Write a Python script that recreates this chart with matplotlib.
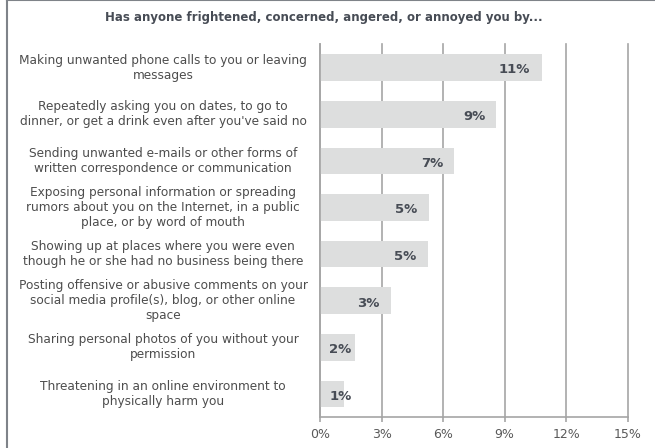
import matplotlib
matplotlib.use("Agg")
import matplotlib.pyplot as plt
from matplotlib.lines import Line2D

# Data
labels = [
    "Making unwanted phone calls to you or leaving\nmessages",
    "Repeatedly asking you on dates, to go to\ndinner, or get a drink even after you've said no",
    "Sending unwanted e-mails or other forms of\nwritten correspondence or communication",
    "Exposing personal information or spreading\nrumors about you on the Internet, in a public\nplace, or by word of mouth",
    "Showing up at places where you were even\nthough he or she had no business being there",
    "Posting offensive or abusive comments on your\nsocial media profile(s), blog, or other online\nspace",
    "Sharing personal photos of you without your\npermission",
    "Threatening in an online environment to\nphysically harm you",
]
values = [10.8, 8.6, 6.55, 5.3, 5.25, 3.45, 1.7, 1.15]
value_labels = ["11%", "9%", "7%", "5%", "5%", "3%", "2%", "1%"]
xticks = [0, 3, 6, 9, 12, 15]

W, H = 655, 448
fig = plt.figure(figsize=(W / 100, H / 100), dpi=100)
ax = fig.add_axes([320 / W, 1 - 417.3 / H, (627.7 - 320) / W, (417.3 - 44.3) / H])

grid_c = "#a5a5a5"
text_c = "#4d4d4d"
bold_c = "#474c55"

ypos = list(range(len(values)))
ax.barh(ypos, values, height=0.57, color="#dddede", zorder=2)
for y, v, t in zip(ypos, values, value_labels):
    if v < 2.5:
        ax.text(0.45, y + 0.05, t, ha="left", va="center", fontsize=9.5,
                fontweight="bold", color=bold_c, zorder=3)
    else:
        ax.text(v - 0.55, y + 0.05, t, ha="right", va="center", fontsize=9.5,
                fontweight="bold", color=bold_c, zorder=3)

ax.set_xlim(0, 15)
ax.set_ylim(7.5, -0.5)
ax.set_xticks(xticks)
ax.set_xticklabels([f"{x}%" for x in xticks], fontsize=9, color="#595959")
ax.set_yticks([])
for s in ["top", "right"]:
    ax.spines[s].set_visible(False)
for s in ["left", "bottom"]:
    ax.spines[s].set_color(grid_c)
    ax.spines[s].set_linewidth(1.2)
ax.tick_params(axis="x", length=3.5, width=1.2, color=grid_c, pad=4)
ax.grid(axis="x", color=grid_c, linewidth=1.2, zorder=1)
for gl in ax.get_xgridlines():
    gl.set_clip_on(False)

# category labels centered in the left column
for y, lab in zip(ypos, labels):
    yf = ax.transData.transform((0, y))[1] / H
    fig.text(163 / W, yf, lab, ha="center", va="center", fontsize=8.75,
             color=text_c, multialignment="center", linespacing=1.2)

fig.text(324 / W, 1 - 18 / H, "Has anyone frightened, concerned, angered, or annoyed you by...",
         ha="center", va="center", fontsize=8.5, fontweight="bold", color=bold_c)

# outer frame lines (top and left)
fig.add_artist(Line2D([6.5 / W, 1], [1 - 0.5 / H, 1 - 0.5 / H], color="#7f8389", linewidth=1.5))
fig.add_artist(Line2D([6.5 / W, 6.5 / W], [0, 1], color="#7f8389", linewidth=1.5))

fig.savefig("out.png", dpi=100)
